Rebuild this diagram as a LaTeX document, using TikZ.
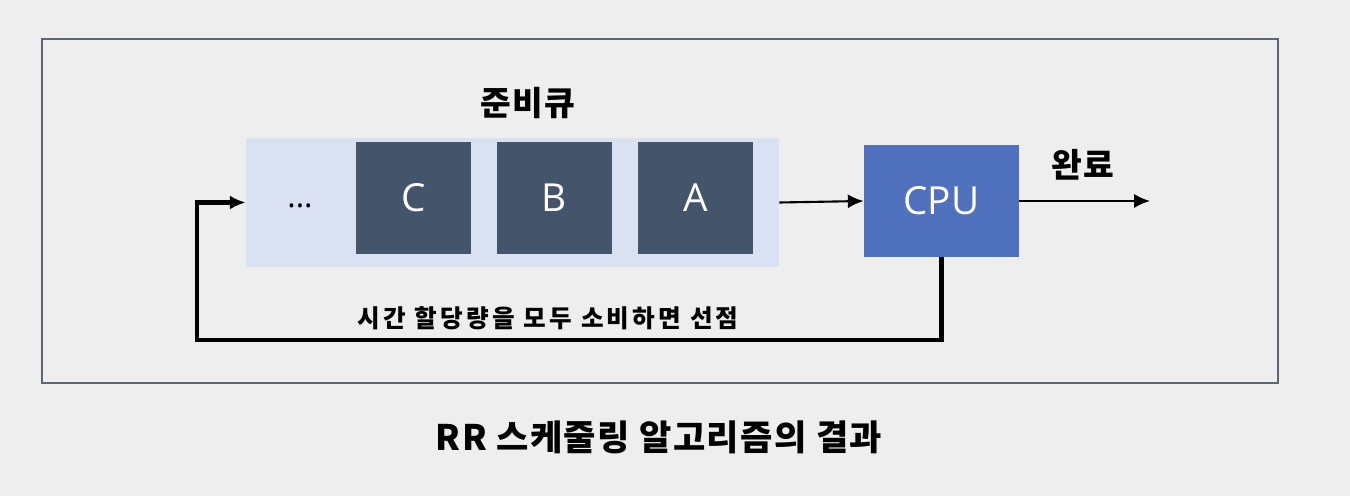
\documentclass[tikz,border=0pt]{standalone}
\usepackage{fontspec}
\setmainfont{Noto Sans CJK KR}
\newfontfamily\latinfont{Open Sans}
\usepackage{tikz}
\usetikzlibrary{arrows.meta,positioning}
\usepackage{xcolor}

\definecolor{bgcol}{HTML}{EEEEEE}
\definecolor{framecol}{HTML}{5B6577}
\definecolor{queuecol}{HTML}{DAE1F2}
\definecolor{proccol}{HTML}{44546A}
\definecolor{cpucol}{HTML}{4F71BE}

\tikzset{
  proc/.style={fill=proccol, minimum width=2.3cm, minimum height=2.24cm, inner sep=0pt,
    text=white, font=\latinfont\fontsize{22}{24}\selectfont},
  heading/.style={font=\bfseries\fontsize{19}{21}\selectfont\addfontfeature{LetterSpace=4}},
  flow/.style={-{Latex[length=9pt,width=8pt]}, line width=1.2pt},
  loopback/.style={-{Latex[length=9pt,width=8pt]}, line width=2.4pt}
}

\begin{document}
\begin{tikzpicture}[x=0.02cm, y=-0.02cm]
\fill[bgcol] (0,0) rectangle (1350,496);
\useasboundingbox (0,0) rectangle (1350,496);
\draw[framecol, line width=1.2pt] (42,39) rectangle (1278,383);

% ready queue
\node[fill=queuecol, minimum width=10.66cm, minimum height=2.58cm, inner sep=0pt] (queue) at (512.5,202.5) {};
\node[heading] (title) at (528,103) {준비큐};
\node[font=\latinfont\fontsize{18}{20}\selectfont] (dots) at (300,206) {...};
\node[proc] (C) at (413.5,198) {C};
\node[proc] (B) at (554.5,198) {B};
\node[proc] (A) at (695.5,198) {A};

% cpu
\node[fill=cpucol, minimum width=3.1cm, minimum height=2.24cm, inner sep=0pt,
  text=white, font=\latinfont\fontsize{22}{24}\selectfont] (CPU) at (941.5,201) {CPU};
\node[heading] (done) at (1083,165) {완료};
\coordinate (out) at (1150,201);
\coordinate (fb) at (197,340);

\draw[flow] (queue.east) -- (CPU.west);
\draw[flow] (CPU.east) -- (out);
\draw[loopback] (CPU.south) |- (fb) |- (queue.west);

\node[font=\bfseries\fontsize{14}{16}\selectfont\addfontfeature{LetterSpace=13}] (preempt) at (548,318) {시간 할당량을 모두 소비하면 선점};
\node[font=\bfseries\fontsize{20}{22}\selectfont\addfontfeature{LetterSpace=4}] (caption) at (659,437) {RR 스케줄링 알고리즘의 결과};
\end{tikzpicture}
\end{document}
